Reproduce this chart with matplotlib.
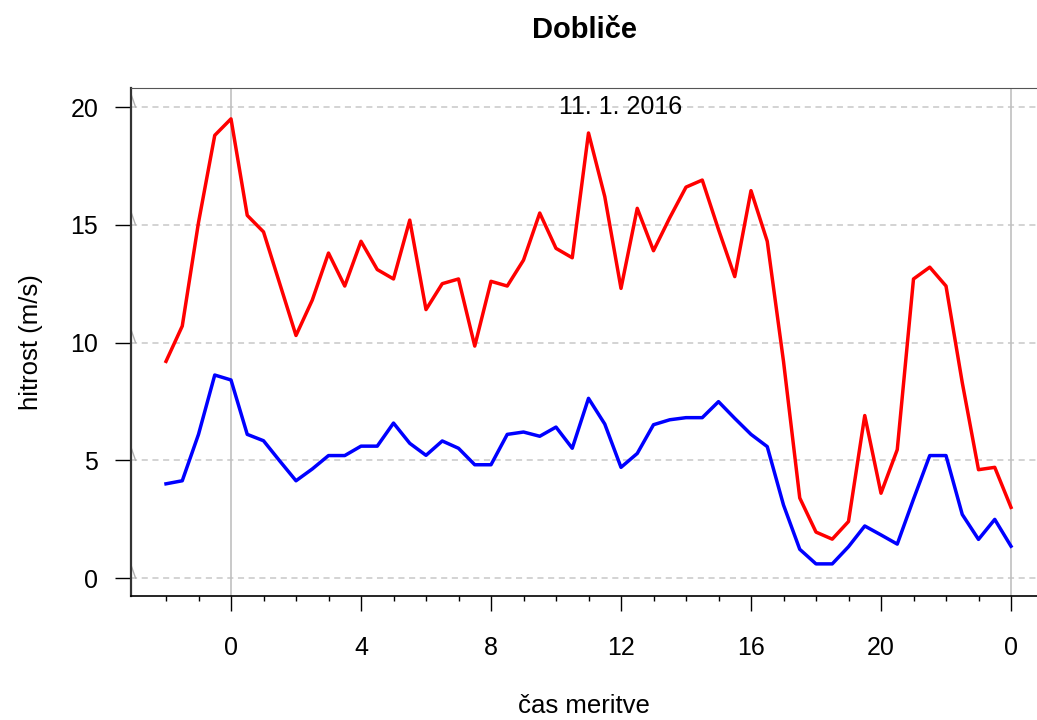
import matplotlib.pyplot as plt
import matplotlib.transforms as mtransforms

plt.rcParams['font.family'] = ['Liberation Sans', 'DejaVu Sans']

# hours from -2 to 24 every half hour
hours = [h / 2 for h in range(-4, 49)]

gusts = [9.2, 10.7, 15.1, 18.8, 19.5, 15.4, 14.7, 12.5, 10.3, 11.8,
         13.8, 12.4, 14.3, 13.1, 12.7, 15.2, 11.4, 12.5, 12.7, 9.85,
         12.6, 12.4, 13.5, 15.5, 14.0, 13.6, 18.9, 16.2, 12.3, 15.7,
         13.9, 15.3, 16.6, 16.9, 14.8, 12.8, 16.45, 14.3, 9.2, 3.4,
         1.95, 1.65, 2.4, 6.9, 3.6, 5.45, 12.7, 13.2, 12.4, 8.3,
         4.6, 4.7, 3.0]

mean_speed = [4.0, 4.13, 6.1, 8.62, 8.41, 6.1, 5.83, 4.97, 4.13, 4.63,
              5.2, 5.2, 5.6, 5.6, 6.58, 5.72, 5.21, 5.82, 5.51, 4.81,
              4.81, 6.1, 6.2, 6.02, 6.41, 5.51, 7.63, 6.54, 4.7, 5.29,
              6.51, 6.72, 6.81, 6.81, 7.49, 6.78, 6.1, 5.58, 3.1, 1.22,
              0.6, 0.6, 1.33, 2.21, 1.83, 1.44, 3.35, 5.2, 5.2, 2.7,
              1.64, 2.49, 1.35]

major_ticks = [0, 4, 8, 12, 16, 20, 24]
major_labels = ["0", "4", "8", "12", "16", "20", "0"]
minor_ticks = list(range(-2, 25))
y_ticks = [0, 5, 10, 15, 20]
midnights = [0, 24]

fig = plt.figure(figsize=(10.37, 7.2), dpi=100)
ax = fig.add_axes([131 / 1037, 1 - 596 / 720, 906 / 1037, (596 - 88) / 720])

for y in y_ticks:
    ax.axhline(y, color="#c8c8c8", lw=1.1, ls=(0, (4, 3)), zorder=1)
for x in midnights:
    ax.axvline(x, color="#c0c0c0", lw=1.2, zorder=1)

# little gray slashes at the y ticks
trans = mtransforms.blended_transform_factory(ax.transAxes, ax.transData)
for y in y_ticks:
    ax.plot([0, 0.005], [y + 0.55, y], color="#b0b0b0", lw=1.0,
            transform=trans, clip_on=False, zorder=2)

ax.plot(hours, gusts, color="#ff0000", lw=2.5, zorder=3)
ax.plot(hours, mean_speed, color="#0000ff", lw=2.5, zorder=3)

ax.text(12, 20, "11. 1. 2016", fontsize=18, ha="center", va="center", zorder=4)

ax.set_xlim(-3.077, 24.8)
ax.set_ylim(-0.764, 20.81)

ax.set_xticks(major_ticks)
ax.set_xticklabels(major_labels)
ax.set_xticks(minor_ticks, minor=True)
ax.set_yticks(y_ticks)
ax.tick_params(axis="x", which="major", length=10.5, width=1.0, labelsize=18, pad=18)
ax.tick_params(axis="x", which="minor", length=3.6, width=1.0)
ax.tick_params(axis="y", length=11.5, width=1.0, labelsize=18, pad=12)

ax.spines["right"].set_visible(False)
ax.spines["top"].set_color("#555555")
ax.spines["left"].set_color("#333333")
ax.spines["left"].set_linewidth(1.6)
ax.spines["bottom"].set_linewidth(1.2)

ax.set_xlabel("čas meritve", fontsize=18.5, labelpad=25)
ax.set_ylabel("hitrost (m/s)", fontsize=18.5, labelpad=20)
ax.set_title("Dobliče", fontsize=21, fontweight="bold", pad=36)

fig.savefig("out.png", dpi=100)
